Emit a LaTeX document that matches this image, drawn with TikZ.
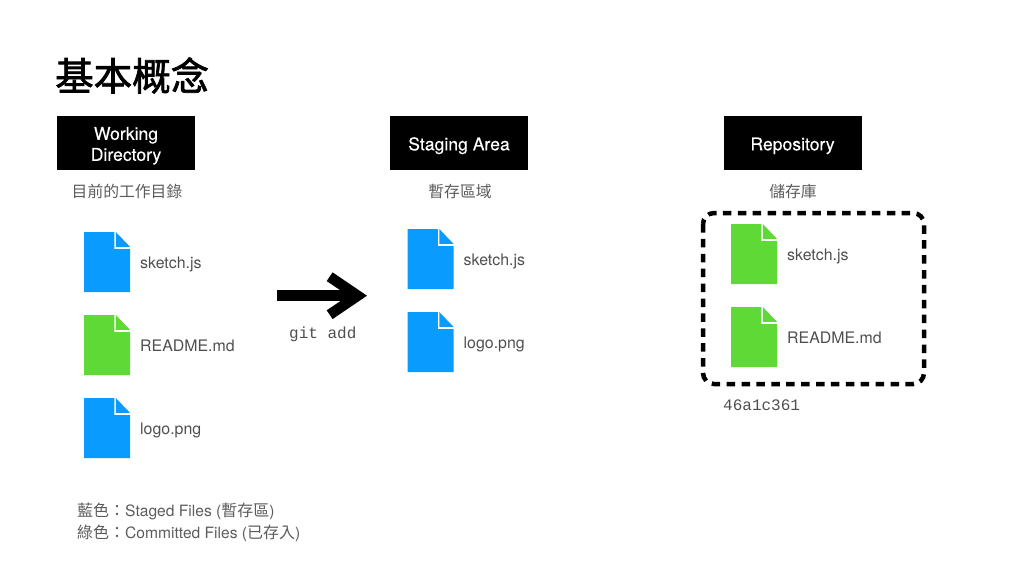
\documentclass[tikz,border=0pt]{standalone}
\usepackage{fontspec}
\setmainfont{TeX Gyre Heros}
\setmonofont{Liberation Mono}
\newfontfamily\cjkfont{Noto Sans CJK TC}
\newfontfamily\titlefont[FakeBold=1.8]{Noto Sans CJK TC}
\newfontfamily\areafont[FakeBold=0.25]{TeX Gyre Heros}
\usetikzlibrary{arrows.meta}
\definecolor{stagedblue}{HTML}{0A9BFF}
\definecolor{committedgreen}{HTML}{5FD936}
\definecolor{labelgray}{HTML}{4F4F4F}
\definecolor{notegray}{HTML}{5C5C5C}
\newcommand{\areatext}[1]{\rule{0pt}{18.5pt}#1}
\newcommand{\legendcjk}[1]{{\cjkfont\fontsize{16}{20}\selectfont #1}}
\tikzset{
	areabox/.style={fill=black, text=white, minimum width=138pt, minimum height=54pt, align=center, inner sep=0pt, font=\fontsize{17.6}{21}\selectfont\areafont},
	areanote/.style={text=notegray, inner sep=0pt, font=\fontsize{15.8}{20}\selectfont\cjkfont},
	filename/.style={anchor=base west, text=labelgray, inner sep=0pt, font=\fontsize{15.9}{20}\selectfont},
	command/.style={anchor=base west, text=labelgray, inner sep=0pt, font=\fontsize{16}{20}\selectfont\ttfamily},
	legendtext/.style={anchor=base west, text=notegray, inner sep=0pt, font=\fontsize{15.6}{20}\selectfont},
	pics/fileicon/.style={code={
		\fill[#1] (0, 0) -- (30.3, 0) -- (30.3, 17) -- (46, 17) -- (46, 60) -- (0, 60) -- cycle;
		\fill[#1] (31.8, 0) -- (46, 14.8) -- (31.8, 14.8) -- cycle;
	}}
}
\begin{document}
\begin{tikzpicture}[x=1pt, y=-1pt]
	\useasboundingbox (0, 0) rectangle (1024, 576);

	\node[anchor=west, inner sep=0pt, font=\fontsize{38.5}{40}\selectfont\titlefont] (title) at (55, 75.5) {基本概念};

	% the three areas
	\node[areabox] (working) at (126, 143) {\areatext{Working}\\Directory};
	\node[areabox] (staging) at (459, 143) {\areatext{Staging Area}};
	\node[areabox] (repository) at (792.5, 143) {\areatext{Repository}};

	\node[areanote] (workingnote) at (127, 191.5) {目前的工作目錄};
	\node[areanote] (stagingnote) at (460, 191.5) {暫存區域};
	\node[areanote] (repositorynote) at (793, 191.5) {儲存庫};

	% working directory
	\pic (workingsketch) at (84, 232) {fileicon=stagedblue};
	\pic (workingreadme) at (84, 315) {fileicon=committedgreen};
	\pic (workinglogo) at (84, 398) {fileicon=stagedblue};
	\node[filename] (workingsketchname) at (140, 268) {sketch.js};
	\node[filename] (workingreadmename) at (140, 351.5) {README.md};
	\node[filename] (workinglogoname) at (140, 434.5) {logo.png};

	% staging area
	\pic (stagingsketch) at (407.5, 229) {fileicon=stagedblue};
	\pic (staginglogo) at (407.5, 312) {fileicon=stagedblue};
	\node[filename] (stagingsketchname) at (463.5, 265) {sketch.js};
	\node[filename] (staginglogoname) at (463.5, 348) {logo.png};

	% repository
	\pic (reposketch) at (731, 224) {fileicon=committedgreen};
	\pic (reporeadme) at (731, 307) {fileicon=committedgreen};
	\node[filename] (reposketchname) at (787, 260.5) {sketch.js};
	\node[filename] (reporeadmename) at (787, 343.5) {README.md};
	\draw[line width=4.5pt, dash pattern=on 8.5pt off 6.4pt, rounded corners=11pt] (703, 213) rectangle (924, 384);
	\node[command] (commithash) at (723, 410) {46a1c361};

	% git add
	\coordinate (addstart) at (277, 295.7);
	\coordinate (addend) at (367, 295.7);
	\draw[line width=10.5pt, -{Straight Barb[length=28pt, width=38pt, line width=10.5pt]}] (addstart) -- (addend);
	\node[command] (gitadd) at (289, 338.5) {git add};

	\node[legendtext] (stagedlegend) at (77, 516) {\legendcjk{藍色：}Staged Files (\legendcjk{暫存區})};
	\node[legendtext] (committedlegend) at (77, 538.5) {\legendcjk{綠色：}Committed Files (\legendcjk{已存入})};
\end{tikzpicture}
\end{document}
